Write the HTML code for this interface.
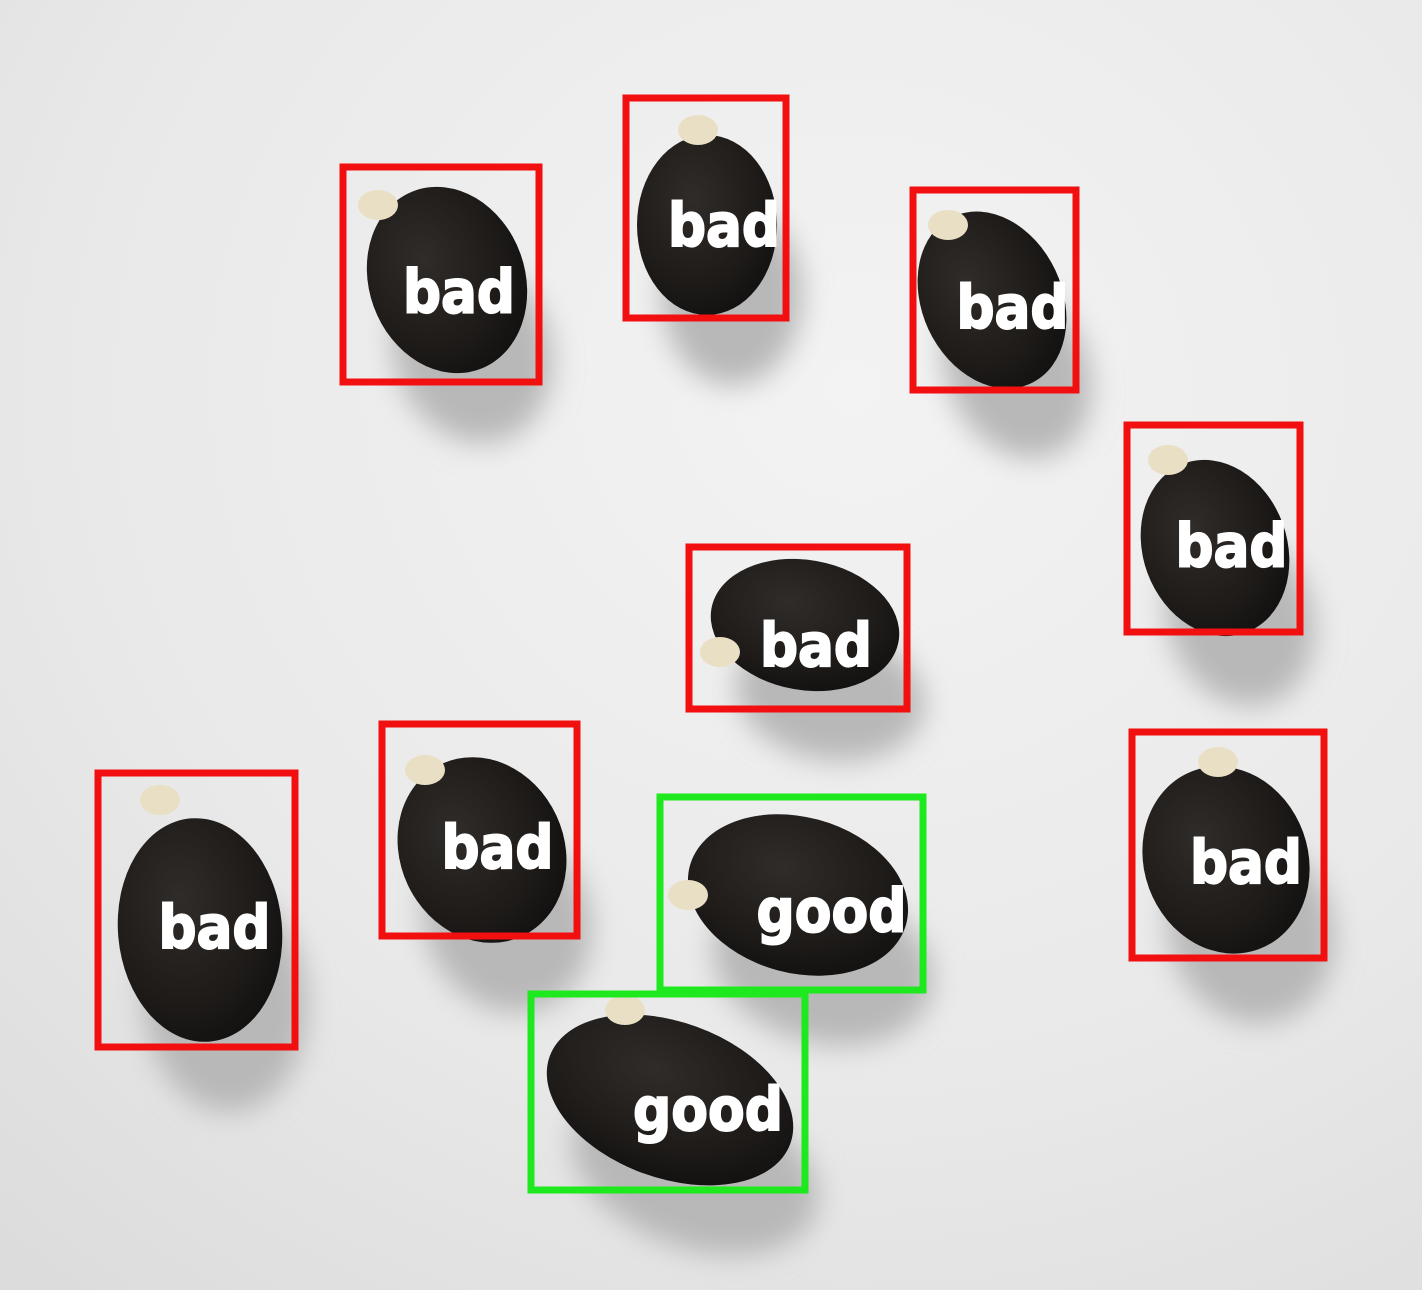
<!DOCTYPE html>
<html><head><meta charset="utf-8"><style>
html,body{margin:0;padding:0;width:1422px;height:1290px;overflow:hidden;background:#e8e8e8}
svg{display:block}
</style></head><body>
<svg id="scene" width="1422" height="1290" viewBox="0 0 1422 1290" xmlns="http://www.w3.org/2000/svg">
<defs>
<radialGradient id="bg" cx="0.6" cy="0.3" r="0.9">
<stop offset="0" stop-color="#f3f3f3"/><stop offset="0.6" stop-color="#e9e9e9"/><stop offset="1" stop-color="#dcdcdc"/>
</radialGradient>
<radialGradient id="seedg" cx="0.4" cy="0.35" r="0.7">
<stop offset="0" stop-color="#302c29"/><stop offset="0.7" stop-color="#1d1a18"/><stop offset="1" stop-color="#121110"/>
</radialGradient>
<filter id="blur" x="-50%" y="-50%" width="200%" height="200%"><feGaussianBlur stdDeviation="14"/></filter>
</defs>
<rect width="1422" height="1290" fill="url(#bg)"/>
<g id="shadows"></g>
<g id="seeds"></g>
<g id="boxes"></g>
</svg>
<script>
const labels = ["bad","bad","bad","bad","bad","bad","bad","bad","good","good"];
const boxX0 = [343,626,913,1127,689,382,98,1132,660,531];
const boxY0 = [167,98,190,425,547,724,773,732,797,994];
const boxX1 = [539,786,1076,1300,907,577,295,1324,923,805];
const boxY1 = [382,318,390,632,709,936,1047,958,990,1190];
const seedCx = [447,707,992,1215,805,482,200,1226,798,670];
const seedCy = [280,225,300,548,625,850,930,860,895,1100];
const seedRx = [78,70,70,72,95,82,82,82,112,128];
const seedRy = [95,90,92,90,65,95,112,95,78,78];
const seedRot = [-20,0,-25,-20,10,-25,-5,-20,15,20];
const sproutX = [378,698,948,1168,720,425,160,1218,688,625];
const sproutY = [205,130,225,460,652,770,800,762,895,1010];
const svgNS = "http://www.w3.org/2000/svg";
const sh = document.getElementById('shadows'), sd = document.getElementById('seeds'), bx = document.getElementById('boxes');
for (let i = 0; i < labels.length; i++) {
  const s = document.createElementNS(svgNS,'ellipse');
  
  
  s.setAttribute('cx', seedCx[i]+25); s.setAttribute('cy', seedCy[i]+70);
  s.setAttribute('rx', seedRx[i]); s.setAttribute('ry', seedRy[i]);
  s.setAttribute('transform','rotate('+seedRot[i]+' '+(seedCx[i]+25)+' '+(seedCy[i]+70)+')');
  s.setAttribute('fill','#b8b8b8'); s.setAttribute('filter','url(#blur)');
  sh.appendChild(s);
  const e = document.createElementNS(svgNS,'ellipse');
  
  
  e.setAttribute('cx', seedCx[i]); e.setAttribute('cy', seedCy[i]);
  e.setAttribute('rx', seedRx[i]); e.setAttribute('ry', seedRy[i]);
  e.setAttribute('transform','rotate('+seedRot[i]+' '+seedCx[i]+' '+seedCy[i]+')');
  e.setAttribute('fill','url(#seedg)');
  sd.appendChild(e);
  const sp = document.createElementNS(svgNS,'ellipse');
  
  
  sp.setAttribute('cx', sproutX[i]); sp.setAttribute('cy', sproutY[i]);
  sp.setAttribute('rx', 20); sp.setAttribute('ry', 15);
  sp.setAttribute('fill','#e9dfc4');
  sd.appendChild(sp);
  const col = labels[i] === 'good' ? '#1ee81e' : '#f20f0f';
  const r = document.createElementNS(svgNS,'rect');
  
  
  r.setAttribute('x', boxX0[i]); r.setAttribute('y', boxY0[i]);
  r.setAttribute('width', boxX1[i]-boxX0[i]); r.setAttribute('height', boxY1[i]-boxY0[i]);
  r.setAttribute('fill','none'); r.setAttribute('stroke', col); r.setAttribute('stroke-width', 7);
  bx.appendChild(r);
  const t = document.createElementNS(svgNS,'text');
  
  
  const tx = labels[i]==='good' ? (boxX0[i]+boxX1[i])/2+40 : (boxX0[i]+boxX1[i])/2+18;
  const ty = (boxY0[i]+boxY1[i])/2 + 38;
  t.setAttribute('x', tx); t.setAttribute('y', ty);
  t.setAttribute('text-anchor','middle');
  t.setAttribute('font-family','"DejaVu Sans","Liberation Sans",sans-serif');
  t.setAttribute('font-weight','bold');
  t.setAttribute('font-size', 60);
  t.setAttribute('textLength', labels[i]==='good' ? 150 : 112);
  t.setAttribute('lengthAdjust','spacingAndGlyphs');
  t.setAttribute('fill','#ffffff');
  t.setAttribute('stroke','#ffffff'); t.setAttribute('stroke-width', 2);
  t.textContent = labels[i];
  bx.appendChild(t);
}
</script>
</body></html>
